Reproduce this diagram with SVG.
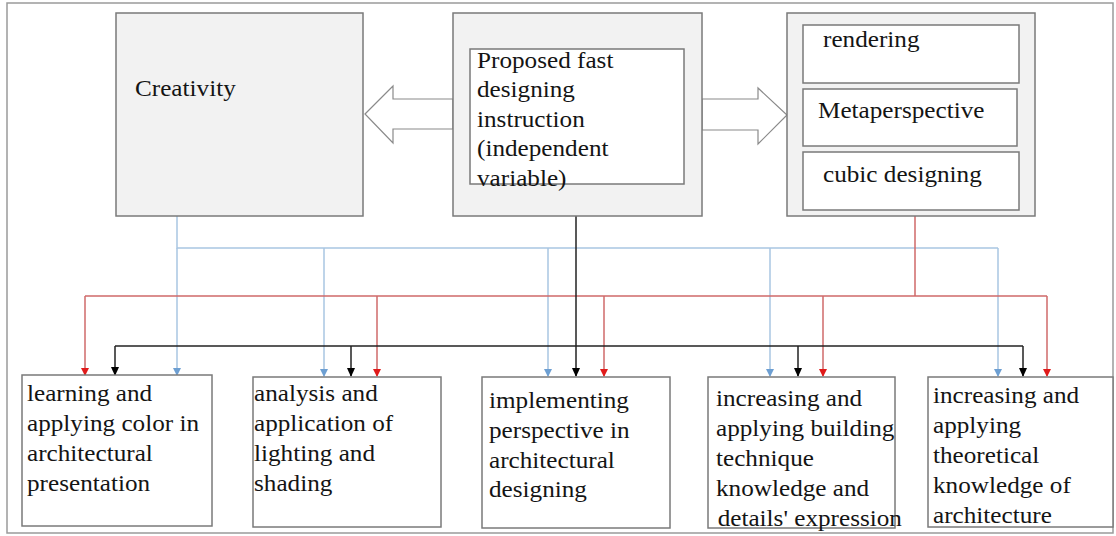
<svg xmlns="http://www.w3.org/2000/svg" width="1116" height="536" viewBox="0 0 1116 536">
<style>
.frame{fill:#fff;stroke:#9a9a9a;stroke-width:1.5}
.gbox{fill:#f2f2f2;stroke:#7a7a7a;stroke-width:1.5}
.wbox{fill:#fff;stroke:#7a7a7a;stroke-width:1.5}
.hollow{fill:#fff;stroke:#8a8a8a;stroke-width:1.2}
.t{font-family:'Liberation Serif','DejaVu Serif','Times New Roman',serif;font-size:22.5px;fill:#141414}
.blue{fill:none;stroke:#a9c6e2;stroke-width:1.5}
.red{fill:none;stroke:#cf6a6a;stroke-width:1.5}
.blk{fill:none;stroke:#222;stroke-width:1.5}
</style>
<defs>
<marker id="ab" markerWidth="8" markerHeight="8" refX="7" refY="4" orient="auto" markerUnits="userSpaceOnUse"><path d="M0,0 L8,4 L0,8 Z" fill="#6d9fd2"/></marker>
<marker id="ar" markerWidth="8" markerHeight="8" refX="7" refY="4" orient="auto" markerUnits="userSpaceOnUse"><path d="M0,0 L8,4 L0,8 Z" fill="#e01b1b"/></marker>
<marker id="ak" markerWidth="9" markerHeight="8" refX="8" refY="4" orient="auto" markerUnits="userSpaceOnUse"><path d="M0,0 L9,4 L0,8 Z" fill="#000"/></marker>
</defs>
<rect class="frame" x="7" y="3" width="1106" height="530"/>

<g id="connectors">
<path class="blue" d="M177,216 V248 H998"/>
<path class="blue" d="M177,248 V375" marker-end="url(#ab)"/>
<path class="blue" d="M324,248 V376" marker-end="url(#ab)"/>
<path class="blue" d="M548,248 V376" marker-end="url(#ab)"/>
<path class="blue" d="M770,248 V376" marker-end="url(#ab)"/>
<path class="blue" d="M998,248 V376" marker-end="url(#ab)"/>
<path class="red" d="M915,216 V296 M85,296 H1047"/>
<path class="red" d="M85,296 V375" marker-end="url(#ar)"/>
<path class="red" d="M377,296 V376" marker-end="url(#ar)"/>
<path class="red" d="M604,296 V376" marker-end="url(#ar)"/>
<path class="red" d="M823,296 V376" marker-end="url(#ar)"/>
<path class="red" d="M1047,296 V376" marker-end="url(#ar)"/>
<path class="blk" d="M115,346 H1023"/>
<path class="blk" d="M115,346 V375" marker-end="url(#ak)"/>
<path class="blk" d="M351,346 V376" marker-end="url(#ak)"/>
<path class="blk" d="M576,216 V376" marker-end="url(#ak)"/>
<path class="blk" d="M798,346 V376" marker-end="url(#ak)"/>
<path class="blk" d="M1023,346 V376" marker-end="url(#ak)"/>
</g>

<g id="creativity">
<rect class="gbox" x="116" y="13" width="247" height="203"/>
<text class="t" font-family="Liberation Serif, serif" transform="translate(135,96) scale(1.12,1)">Creativity</text>
</g>

<g id="arrow-left">
<polygon class="hollow" points="365,114 393,86 393,99 453,99 453,129 393,129 393,143"/>
</g>
<g id="arrow-right">
<polygon class="hollow" points="702,99 758,99 758,88 787,115 758,144 758,130 702,130"/>
</g>

<g id="instruction">
<rect class="gbox" x="453" y="13" width="249" height="203"/>
<rect class="wbox" x="470" y="49" width="214" height="135"/>
<text class="t" transform="translate(477,68) scale(1.12,1)"><tspan x="0" y="0">Proposed fast</tspan><tspan x="0" y="29.5">designing</tspan><tspan x="0" y="59">instruction</tspan><tspan x="0" y="88.5">(independent</tspan><tspan x="0" y="118">variable)</tspan></text>
</g>

<g id="methods">
<rect class="gbox" x="787" y="13" width="248" height="203"/>
<g id="rendering"><rect class="wbox" x="803" y="25" width="216" height="58"/>
<text class="t" transform="translate(823,47) scale(1.12,1)">rendering</text></g>
<g id="metaperspective"><rect class="wbox" x="803" y="89" width="214" height="57"/>
<text class="t" transform="translate(818,118) scale(1.12,1)">Metaperspective</text></g>
<g id="cubic"><rect class="wbox" x="803" y="152" width="216" height="58"/>
<text class="t" transform="translate(823,182) scale(1.12,1)">cubic designing</text></g>
</g>

<g id="out1">
<rect class="wbox" x="22" y="375" width="190" height="151"/>
<text class="t" transform="translate(27,401) scale(1.12,1)"><tspan x="0" y="0">learning and</tspan><tspan x="0" y="30">applying color in</tspan><tspan x="0" y="60">architectural</tspan><tspan x="0" y="90">presentation</tspan></text>
</g>
<g id="out2">
<rect class="wbox" x="253" y="377" width="188" height="150"/>
<text class="t" transform="translate(254,401) scale(1.12,1)"><tspan x="0" y="0">analysis and</tspan><tspan x="0" y="30">application of</tspan><tspan x="0" y="60">lighting and</tspan><tspan x="0" y="90">shading</tspan></text>
</g>
<g id="out3">
<rect class="wbox" x="482" y="377" width="188" height="151"/>
<text class="t" transform="translate(489,408) scale(1.12,1)"><tspan x="0" y="0">implementing</tspan><tspan x="0" y="30">perspective in</tspan><tspan x="0" y="60">architectural</tspan><tspan x="0" y="89">designing</tspan></text>
</g>
<g id="out4">
<rect class="wbox" x="708" y="377" width="187" height="151"/>
<text class="t" transform="translate(716,406) scale(1.12,1)"><tspan x="0" y="0">increasing and</tspan><tspan x="0" y="30">applying building</tspan><tspan x="0" y="60">technique</tspan><tspan x="0" y="90">knowledge and</tspan><tspan x="1.5" y="120">details' expression</tspan></text>
</g>
<g id="out5">
<rect class="wbox" x="928" y="377" width="185" height="150"/>
<text class="t" transform="translate(933,403) scale(1.12,1)"><tspan x="0" y="0">increasing and</tspan><tspan x="0" y="30">applying</tspan><tspan x="0" y="60">theoretical</tspan><tspan x="0" y="90">knowledge of</tspan><tspan x="0" y="120">architecture</tspan></text>
</g>
</svg>
